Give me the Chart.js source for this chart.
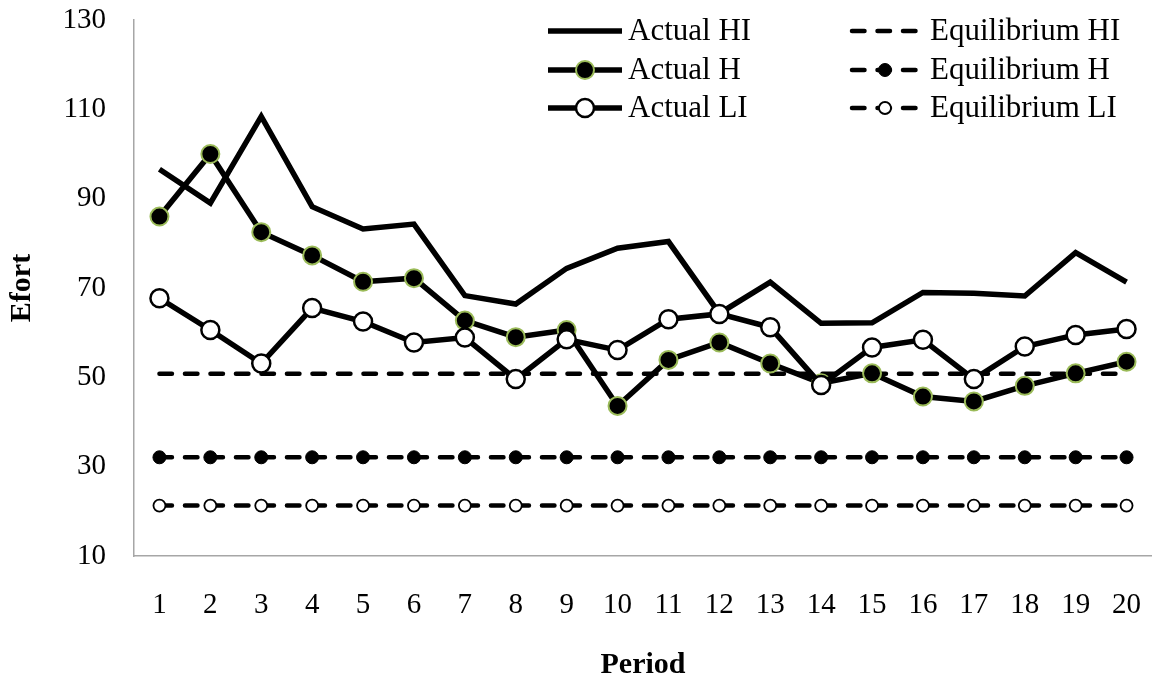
<!DOCTYPE html>
<html>
<head>
<meta charset="utf-8">
<script src="https://cdn.jsdelivr.net/npm/chart.js@4.4.1/dist/chart.umd.min.js"></script>
<style>
html,body{margin:0;padding:0;background:#fff;}
canvas{display:block;}
</style>
</head>
<body>
<canvas id="c" width="1152" height="684"></canvas>
<script>
const periods = ['1','2','3','4','5','6','7','8','9','10','11','12','13','14','15','16','17','18','19','20'];
const actualHI = [96.6, 89.0, 108.4, 88.2, 83.2, 84.3, 68.3, 66.4, 74.4, 78.9, 80.4, 64.3, 71.3, 62.1, 62.2, 69.0, 68.8, 68.2, 77.9, 71.3];
const actualH  = [86.0, 100.0, 82.5, 77.3, 71.4, 72.2, 62.7, 59.0, 60.6, 43.6, 53.9, 57.8, 53.1, 48.7, 50.9, 45.7, 44.6, 48.1, 50.9, 53.5];
const actualLI = [67.7, 60.6, 53.1, 65.5, 62.5, 57.8, 58.9, 49.6, 58.5, 56.1, 63.0, 64.2, 61.2, 48.3, 56.7, 58.4, 49.6, 56.9, 59.5, 60.8];
const equilHI  = [50.8, 50.8, 50.8, 50.8, 50.8, 50.8, 50.8, 50.8, 50.8, 50.8, 50.8, 50.8, 50.8, 50.8, 50.8, 50.8, 50.8, 50.8, 50.8, 50.8];
const equilH   = [32.1, 32.1, 32.1, 32.1, 32.1, 32.1, 32.1, 32.1, 32.1, 32.1, 32.1, 32.1, 32.1, 32.1, 32.1, 32.1, 32.1, 32.1, 32.1, 32.1];
const equilLI  = [21.3, 21.3, 21.3, 21.3, 21.3, 21.3, 21.3, 21.3, 21.3, 21.3, 21.3, 21.3, 21.3, 21.3, 21.3, 21.3, 21.3, 21.3, 21.3, 21.3];
const yTicks = [10, 30, 50, 70, 90, 110, 130];

const GREEN = '#9bbb59';
const SERIF = "'Liberation Serif', 'Times New Roman', serif";
const DASH = [12.5, 13];

const datasets = [
  {label:'Actual HI', data:actualHI, borderColor:'#000', borderWidth:5.5, pointRadius:0, order:3, col:0, row:0},
  {label:'Actual H', data:actualH, borderColor:'#000', borderWidth:5.5, pointRadius:9, pointBackgroundColor:'#000', pointBorderColor:GREEN, pointBorderWidth:2, order:2, col:0, row:1},
  {label:'Actual LI', data:actualLI, borderColor:'#000', borderWidth:5.5, pointRadius:9, pointBackgroundColor:'#fff', pointBorderColor:'#000', pointBorderWidth:2.5, order:1, col:0, row:2},
  {label:'Equilibrium HI', data:equilHI, borderColor:'#000', borderWidth:4.5, borderDash:DASH, borderCapStyle:'round', pointRadius:0, order:4, col:1, row:0},
  {label:'Equilibrium H', data:equilH, borderColor:'#000', borderWidth:4.5, borderDash:DASH, borderCapStyle:'round', pointRadius:6.5, pointBackgroundColor:'#000', pointBorderColor:'#000', pointBorderWidth:1, order:5, col:1, row:1},
  {label:'Equilibrium LI', data:equilLI, borderColor:'#000', borderWidth:4.5, borderDash:DASH, borderCapStyle:'round', pointRadius:6, pointBackgroundColor:'#fff', pointBorderColor:'#000', pointBorderWidth:1.8, order:6, col:1, row:2}
];
datasets.forEach(d => { d.tension = 0; d.fill = false; d.pointHoverRadius = d.pointRadius; });

const legendLayout = {
  colLineX: [548, 852], colLineLen: [74, 66], colTextX: [628, 930], rowY: [31, 70, 108], font: '31px ' + SERIF
};

const legendPlugin = {
  id: 'gridLegend',
  afterDraw(chart) {
    const ctx = chart.ctx;
    ctx.save();
    chart.data.datasets.forEach(ds => {
      const x0 = legendLayout.colLineX[ds.col];
      const len = legendLayout.colLineLen[ds.col];
      const y = legendLayout.rowY[ds.row];
      ctx.beginPath();
      ctx.strokeStyle = ds.borderColor;
      ctx.lineWidth = ds.borderWidth;
      ctx.lineCap = ds.borderDash ? 'round' : 'butt';
      ctx.setLineDash(ds.borderDash || []);
      ctx.moveTo(x0, y);
      ctx.lineTo(x0 + len, y);
      ctx.stroke();
      ctx.setLineDash([]);
      if (ds.pointRadius > 0) {
        ctx.beginPath();
        ctx.arc(x0 + len / 2, y, ds.pointRadius, 0, Math.PI * 2);
        ctx.fillStyle = ds.pointBackgroundColor;
        ctx.fill();
        ctx.lineWidth = ds.pointBorderWidth;
        ctx.strokeStyle = ds.pointBorderColor;
        ctx.stroke();
      }
      ctx.fillStyle = '#000';
      ctx.font = legendLayout.font;
      ctx.textAlign = 'left';
      ctx.textBaseline = 'middle';
      ctx.fillText(ds.label, legendLayout.colTextX[ds.col], y + 1);
    });
    ctx.restore();
  }
};

function zeroPad(s) { s.paddingTop = 0; s.paddingBottom = 0; s.paddingLeft = 0; s.paddingRight = 0; }

new Chart(document.getElementById('c'), {
  type: 'line',
  data: { labels: periods, datasets: datasets },
  options: {
    responsive: false,
    animation: false,
    events: [],
    layout: { autoPadding: false, padding: { top: 20, left: 0, right: 0, bottom: 0 } },
    plugins: { legend: { display: false }, tooltip: { enabled: false } },
    scales: {
      x: {
        offset: true,
        grid: { display: false, drawTicks: false },
        border: { display: true, color: '#a6a6a6', width: 1.5 },
        ticks: { color: '#000', font: { family: SERIF, size: 29 }, padding: 32, maxRotation: 0, autoSkip: false },
        title: { display: true, text: 'Period', color: '#000', font: { family: SERIF, size: 30, weight: 'bold', lineHeight: 1.2 }, padding: { top: 0, bottom: 1 } },
        afterFit(s) { s.height = 128; zeroPad(s); }
      },
      y: {
        min: 10, max: 130,
        afterBuildTicks(s) { s.ticks = yTicks.map(v => ({ value: v })); },
        grid: { display: false, drawTicks: false },
        border: { display: true, color: '#a6a6a6', width: 1.5 },
        ticks: { color: '#000', font: { family: SERIF, size: 29 }, padding: 28 },
        title: { display: true, text: 'Efort', color: '#000', font: { family: SERIF, size: 30, weight: 'bold', lineHeight: 1.2 }, padding: { top: 4, bottom: 0 } },
        afterFit(s) { s.width = 134; zeroPad(s); }
      }
    }
  },
  plugins: [legendPlugin]
});
</script>
</body>
</html>
